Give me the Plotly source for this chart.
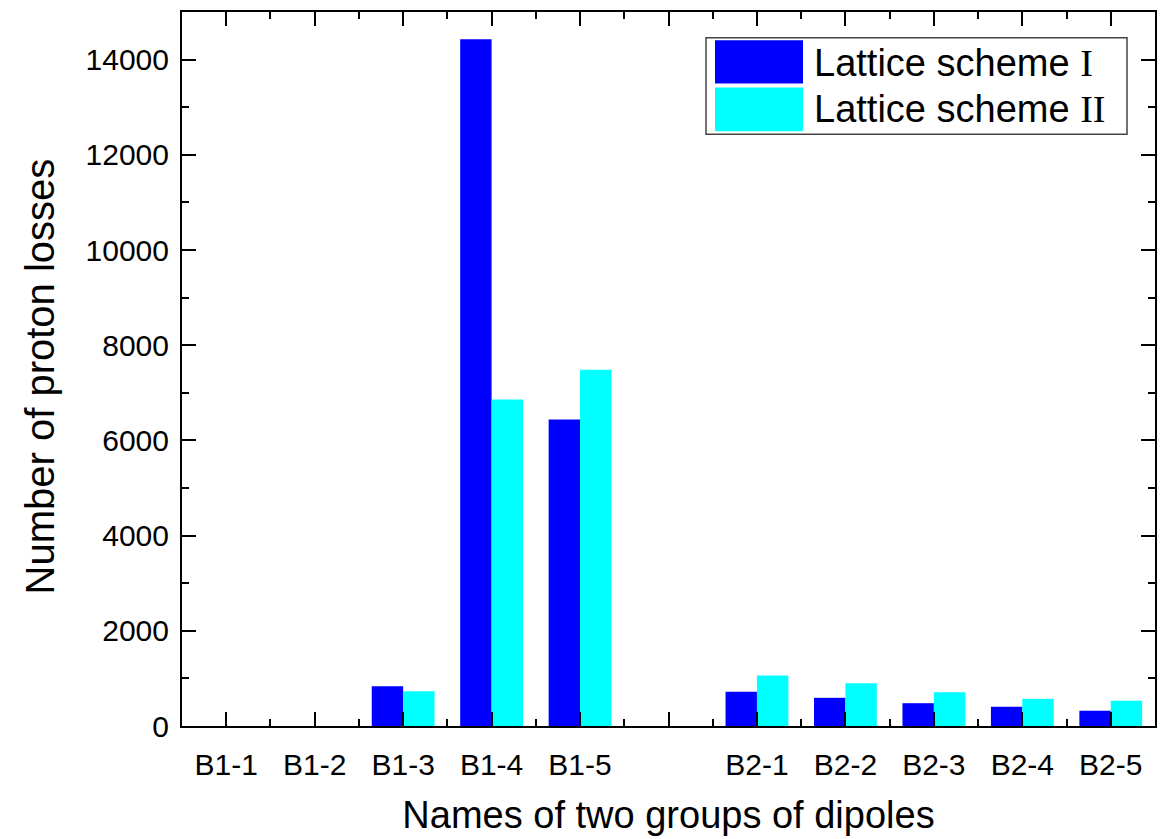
import plotly.graph_objects as go

# ---- data ----
categories = ["B1-1", "B1-2", "B1-3", "B1-4", "B1-5", "",
              "B2-1", "B2-2", "B2-3", "B2-4", "B2-5"]
scheme_I = [0, 0, 833, 14430, 6437, None, 717, 592, 479, 404, 321]
scheme_II = [0, 0, 729, 6860, 7485, None, 1063, 896, 708, 571, 529]
series_names = ["Lattice scheme I", "Lattice scheme II"]
colors = ["#0000FF", "#00FFFF"]
x_title = "Names of two groups of dipoles"
y_title = "Number of proton losses"

xpos = list(range(len(categories)))

W, H = 1171, 839
ML, MR, MT, MB = 182, 16, 10, 110

fig = go.Figure()
for name, vals, col in zip(series_names, [scheme_I, scheme_II], colors):
    fig.add_trace(go.Bar(x=xpos, y=vals, name=name, marker=dict(color=col, line=dict(width=0)),
                         showlegend=False))

FONT = "Liberation Sans, Arial, sans-serif"
axis_common = dict(
    showline=True, linecolor="black", linewidth=2, mirror="allticks",
    ticks="inside", ticklen=14, tickwidth=2, tickcolor="black",
    showgrid=False, zeroline=False, layer="above traces",
    tickfont=dict(family=FONT, size=30, color="black"),
)

fig.update_xaxes(
    **axis_common,
    range=[-0.5, len(categories) - 0.5],
    tickmode="array", tickvals=xpos, ticktext=categories,
    minor=dict(ticks="inside", ticklen=7, tickwidth=2, tickcolor="black", tick0=0.5, dtick=1),
    ticklabelstandoff=11,
    title=dict(text=x_title, font=dict(family=FONT, size=38, color="black"), standoff=21),
)
fig.update_yaxes(
    **axis_common,
    range=[0, 15000], tick0=0, dtick=2000, tickformat="d",
    minor=dict(ticks="inside", ticklen=7, tickwidth=2, tickcolor="black", tick0=0, dtick=1000),
    ticklabelstandoff=5,
)

# ---- manual legend and y title (paper coords from pixel positions) ----
pw = W - ML - MR
ph = H - MT - MB
def px(x):
    return (x - ML) / pw
def py(y):
    return (H - MB - y) / ph

shapes = [
    dict(type="rect", xref="paper", yref="paper", x0=px(706), x1=px(1127), y0=py(133), y1=py(36),
         line=dict(color="#444444", width=1.5), fillcolor="white", layer="above"),
    dict(type="rect", xref="paper", yref="paper", x0=px(715), x1=px(803), y0=py(82), y1=py(38.5),
         line=dict(width=0), fillcolor=colors[0], layer="above"),
    dict(type="rect", xref="paper", yref="paper", x0=px(715), x1=px(803), y0=py(130), y1=py(86),
         line=dict(width=0), fillcolor=colors[1], layer="above"),
]
serif = "font-family:Liberation Serif, Times New Roman, serif"
annotations = [
    dict(xref="paper", yref="paper", x=px(812), y=py(61), xanchor="left", yanchor="middle",
         showarrow=False, font=dict(family=FONT, size=38, color="black"),
         text="Lattice scheme <span style='%s'>I</span>" % serif),
    dict(xref="paper", yref="paper", x=px(812), y=py(108), xanchor="left", yanchor="middle",
         showarrow=False, font=dict(family=FONT, size=38, color="black"),
         text="Lattice scheme <span style='%s'>II</span>" % serif),
    dict(xref="paper", yref="paper", x=px(40), y=py(377), xanchor="center", yanchor="middle",
         textangle=-90, showarrow=False, font=dict(family=FONT, size=40, color="black"),
         text=y_title),
]

fig.update_layout(
    width=W, height=H,
    margin=dict(l=ML, r=MR, t=MT, b=MB),
    paper_bgcolor="white", plot_bgcolor="white",
    barmode="group", bargap=0.29, bargroupgap=0,
    shapes=shapes, annotations=annotations,
    font=dict(family=FONT, color="black"),
)

fig.write_html("out.html", config={"displayModeBar": False},
               post_script="document.body.style.margin='0';document.body.style.overflow='hidden';")
